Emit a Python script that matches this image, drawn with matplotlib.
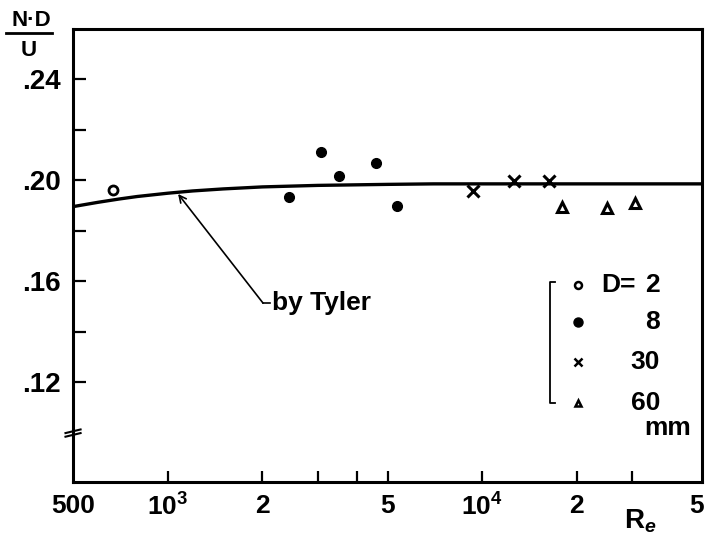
import matplotlib
matplotlib.use('Agg')
import matplotlib.pyplot as plt

FONT = ['Liberation Sans', 'DejaVu Sans']
plt.rcParams['font.family'] = FONT
plt.rcParams['font.weight'] = 'bold'
plt.rcParams['mathtext.fontset'] = 'custom'
plt.rcParams['mathtext.rm'] = FONT[0] + ':bold'
plt.rcParams['mathtext.it'] = FONT[0] + ':italic:bold'

# Tyler's curve
tyler_re = [500, 600, 700, 800, 1000, 1200, 1500, 2000, 3000, 5000, 7000, 10000, 20000, 50000]
tyler_nd = [0.1895, 0.1912, 0.1925, 0.1935, 0.1948, 0.1957, 0.1965, 0.1973, 0.1979, 0.1983,
            0.1985, 0.1985, 0.1985, 0.1985]

# measured points, D = 2, 8, 30, 60 mm
re_d2 = [670]
nd_d2 = [0.196]
re_d8 = [2430, 3070, 3500, 4590, 5360]
nd_d8 = [0.1934, 0.211, 0.2016, 0.2067, 0.1898]
re_d30 = [9330, 12650, 16350]
nd_d30 = [0.1958, 0.1997, 0.1996]
re_d60 = [17900, 24900, 30600]
nd_d60 = [0.1894, 0.1888, 0.1908]

xticks = [1000, 2000, 3000, 4000, 5000, 10000, 20000, 30000]
xlabels = ['500', '$10^3$', '2', '5', '$10^4$', '2', '5']
xlabel_pos = [500, 1000, 2000, 5000, 10000, 20000, 50000]
yticks = [0.12, 0.16, 0.20, 0.24]
ylabels = ['.12', '.16', '.20', '.24']
yminor = [0.14, 0.18, 0.22]

fig = plt.figure(figsize=(7.07, 5.46), dpi=100)
ax = fig.add_axes([0.1033, 0.1172, 0.8897, 0.8297])

ax.plot(tyler_re, tyler_nd, color='black', lw=2.4)
ax.plot(re_d2, nd_d2, 'o', mfc='white', mec='black', mew=2, ms=6.5)
ax.plot(re_d8, nd_d8, 'o', color='black', ms=7)
ax.plot(re_d30, nd_d30, 'x', color='black', mew=2.2, ms=8)
ax.plot(re_d60, nd_d60, '^', mfc='white', mec='black', mew=2.2, ms=7)

ax.set_xscale('log')
ax.set_xlim(500, 50000)
ax.set_ylim(0.0805, 0.2598)

ax.set_xticks(xticks)
ax.set_xticklabels([])
ax.xaxis.set_minor_locator(matplotlib.ticker.NullLocator())
for xp, lab in zip(xlabel_pos, xlabels):
    ha = 'right' if xp == 50000 else 'center'
    ax.text(xp * (1.015 if ha == 'right' else 1), -0.026, lab,
            transform=ax.get_xaxis_transform(), ha=ha, va='top', fontsize=19)

ax.set_yticks(yticks)
ax.set_yticklabels(ylabels, fontsize=20)
ax.set_yticks(yminor, minor=True)
ax.tick_params(which='both', direction='in', length=8, width=1.6, pad=9)
ax.tick_params(axis='y', which='both', length=9)

for s in ax.spines.values():
    s.set_linewidth(2.2)

# axis break marks on y axis
for dy in (-0.004, 0.004):
    ax.plot([-0.012, 0.012], [0.108 + dy - 0.004, 0.108 + dy + 0.004],
            transform=ax.transAxes, color='black', lw=1.5, clip_on=False)

# "by Tyler" pointer
ax.annotate('', xy=(1079, 0.1945), xytext=(2010, 0.1513),
            arrowprops=dict(arrowstyle='->,head_length=0.5,head_width=0.25', color='black',
                            lw=1.2, shrinkA=0, shrinkB=0))
ax.plot([2010, 2110], [0.1513, 0.1513], color='black', lw=1.2)
ax.text(2150, 0.1513, 'by Tyler', fontsize=19, va='center', ha='left')

# legend
ax.plot([0.766, 0.758, 0.758, 0.766], [0.4415, 0.4415, 0.1744, 0.1744],
        transform=ax.transAxes, color='black', lw=1.3)
ax.plot([0.803], [0.435], 'o', mfc='white', mec='black', mew=1.8, ms=5, transform=ax.transAxes)
ax.plot([0.803], [0.353], 'o', color='black', ms=6.5, transform=ax.transAxes)
ax.plot([0.803], [0.265], 'x', color='black', mew=1.8, ms=6, transform=ax.transAxes)
ax.plot([0.803], [0.174], '^', mfc='white', mec='black', mew=1.8, ms=5, transform=ax.transAxes)
ax.text(0.839, 0.435, 'D=', transform=ax.transAxes, fontsize=19, va='center', ha='left')
for yy, lab in zip([0.435, 0.353, 0.265, 0.174], ['2', '8', '30', '60']):
    ax.text(0.933, yy, lab, transform=ax.transAxes, fontsize=19, va='center', ha='right')
ax.text(0.9825, 0.119, 'mm', transform=ax.transAxes, fontsize=19, va='center', ha='right')

# y label as fraction
fig.text(0.044, 0.963, 'N·D', fontsize=16, ha='center', va='center')
fig.add_artist(plt.Line2D([0.009, 0.074], [0.94, 0.94], color='black', lw=2))
fig.text(0.041, 0.907, 'U', fontsize=16, ha='center', va='center')
fig.text(0.905, 0.045, 'R$_{\\mathit{e}}$', fontsize=20, ha='center', va='center')

fig.savefig('out.png', dpi=100)
